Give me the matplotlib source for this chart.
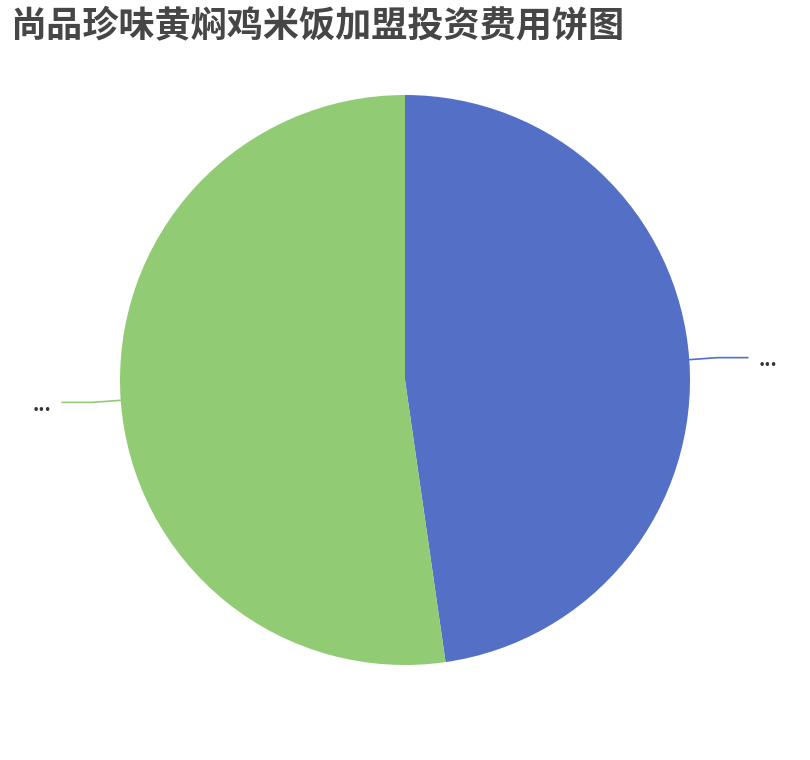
import numpy as np
import matplotlib.pyplot as plt

plt.rcParams['font.family'] = ['Noto Sans CJK SC', 'DejaVu Sans']

# data
title = "尚品珍味黄焖鸡米饭加盟投资费用饼图"
labels = ["...", "..."]
values = [10.5, 11.5]
colors = ["#5470c6", "#91cc75"]

fig = plt.figure(figsize=(8.1, 7.6), dpi=100)
# pie centred at (405, 380) px, radius 285 px
ax = fig.add_axes([120 / 810, 95 / 760, 570 / 810, 570 / 760])

wedges, _ = ax.pie(values, colors=colors, startangle=90, counterclock=False,
                   radius=1, wedgeprops=dict(linewidth=0))
ax.set_xlim(-1, 1)
ax.set_ylim(-1, 1)
ax.set_aspect('equal')
ax.axis('off')

# label lines (echarts style: short radial segment then horizontal)
for w, lab, c in zip(wedges, labels, colors):
    mid = np.deg2rad((w.theta1 + w.theta2) / 2)
    x0, y0 = np.cos(mid), np.sin(mid)
    x1, y1 = 1.1 * x0, 1.1 * y0
    side = 1 if x0 >= 0 else -1
    x2 = x1 + side * 0.105
    ax.plot([x0, x1, x2], [y0, y1, y1], color=c, lw=1.2, clip_on=False)
    ax.text(x2 + side * 0.04, y1 - 0.01, lab, ha='left' if side > 0 else 'right',
            va='center', fontsize=14, fontweight='bold', color='#333333',
            clip_on=False)

fig.text(10 / 810, 1 - 27 / 760, title, fontsize=26, fontweight='bold',
         color='#464646', ha='left', va='center')

fig.savefig("out.png", dpi=100)
